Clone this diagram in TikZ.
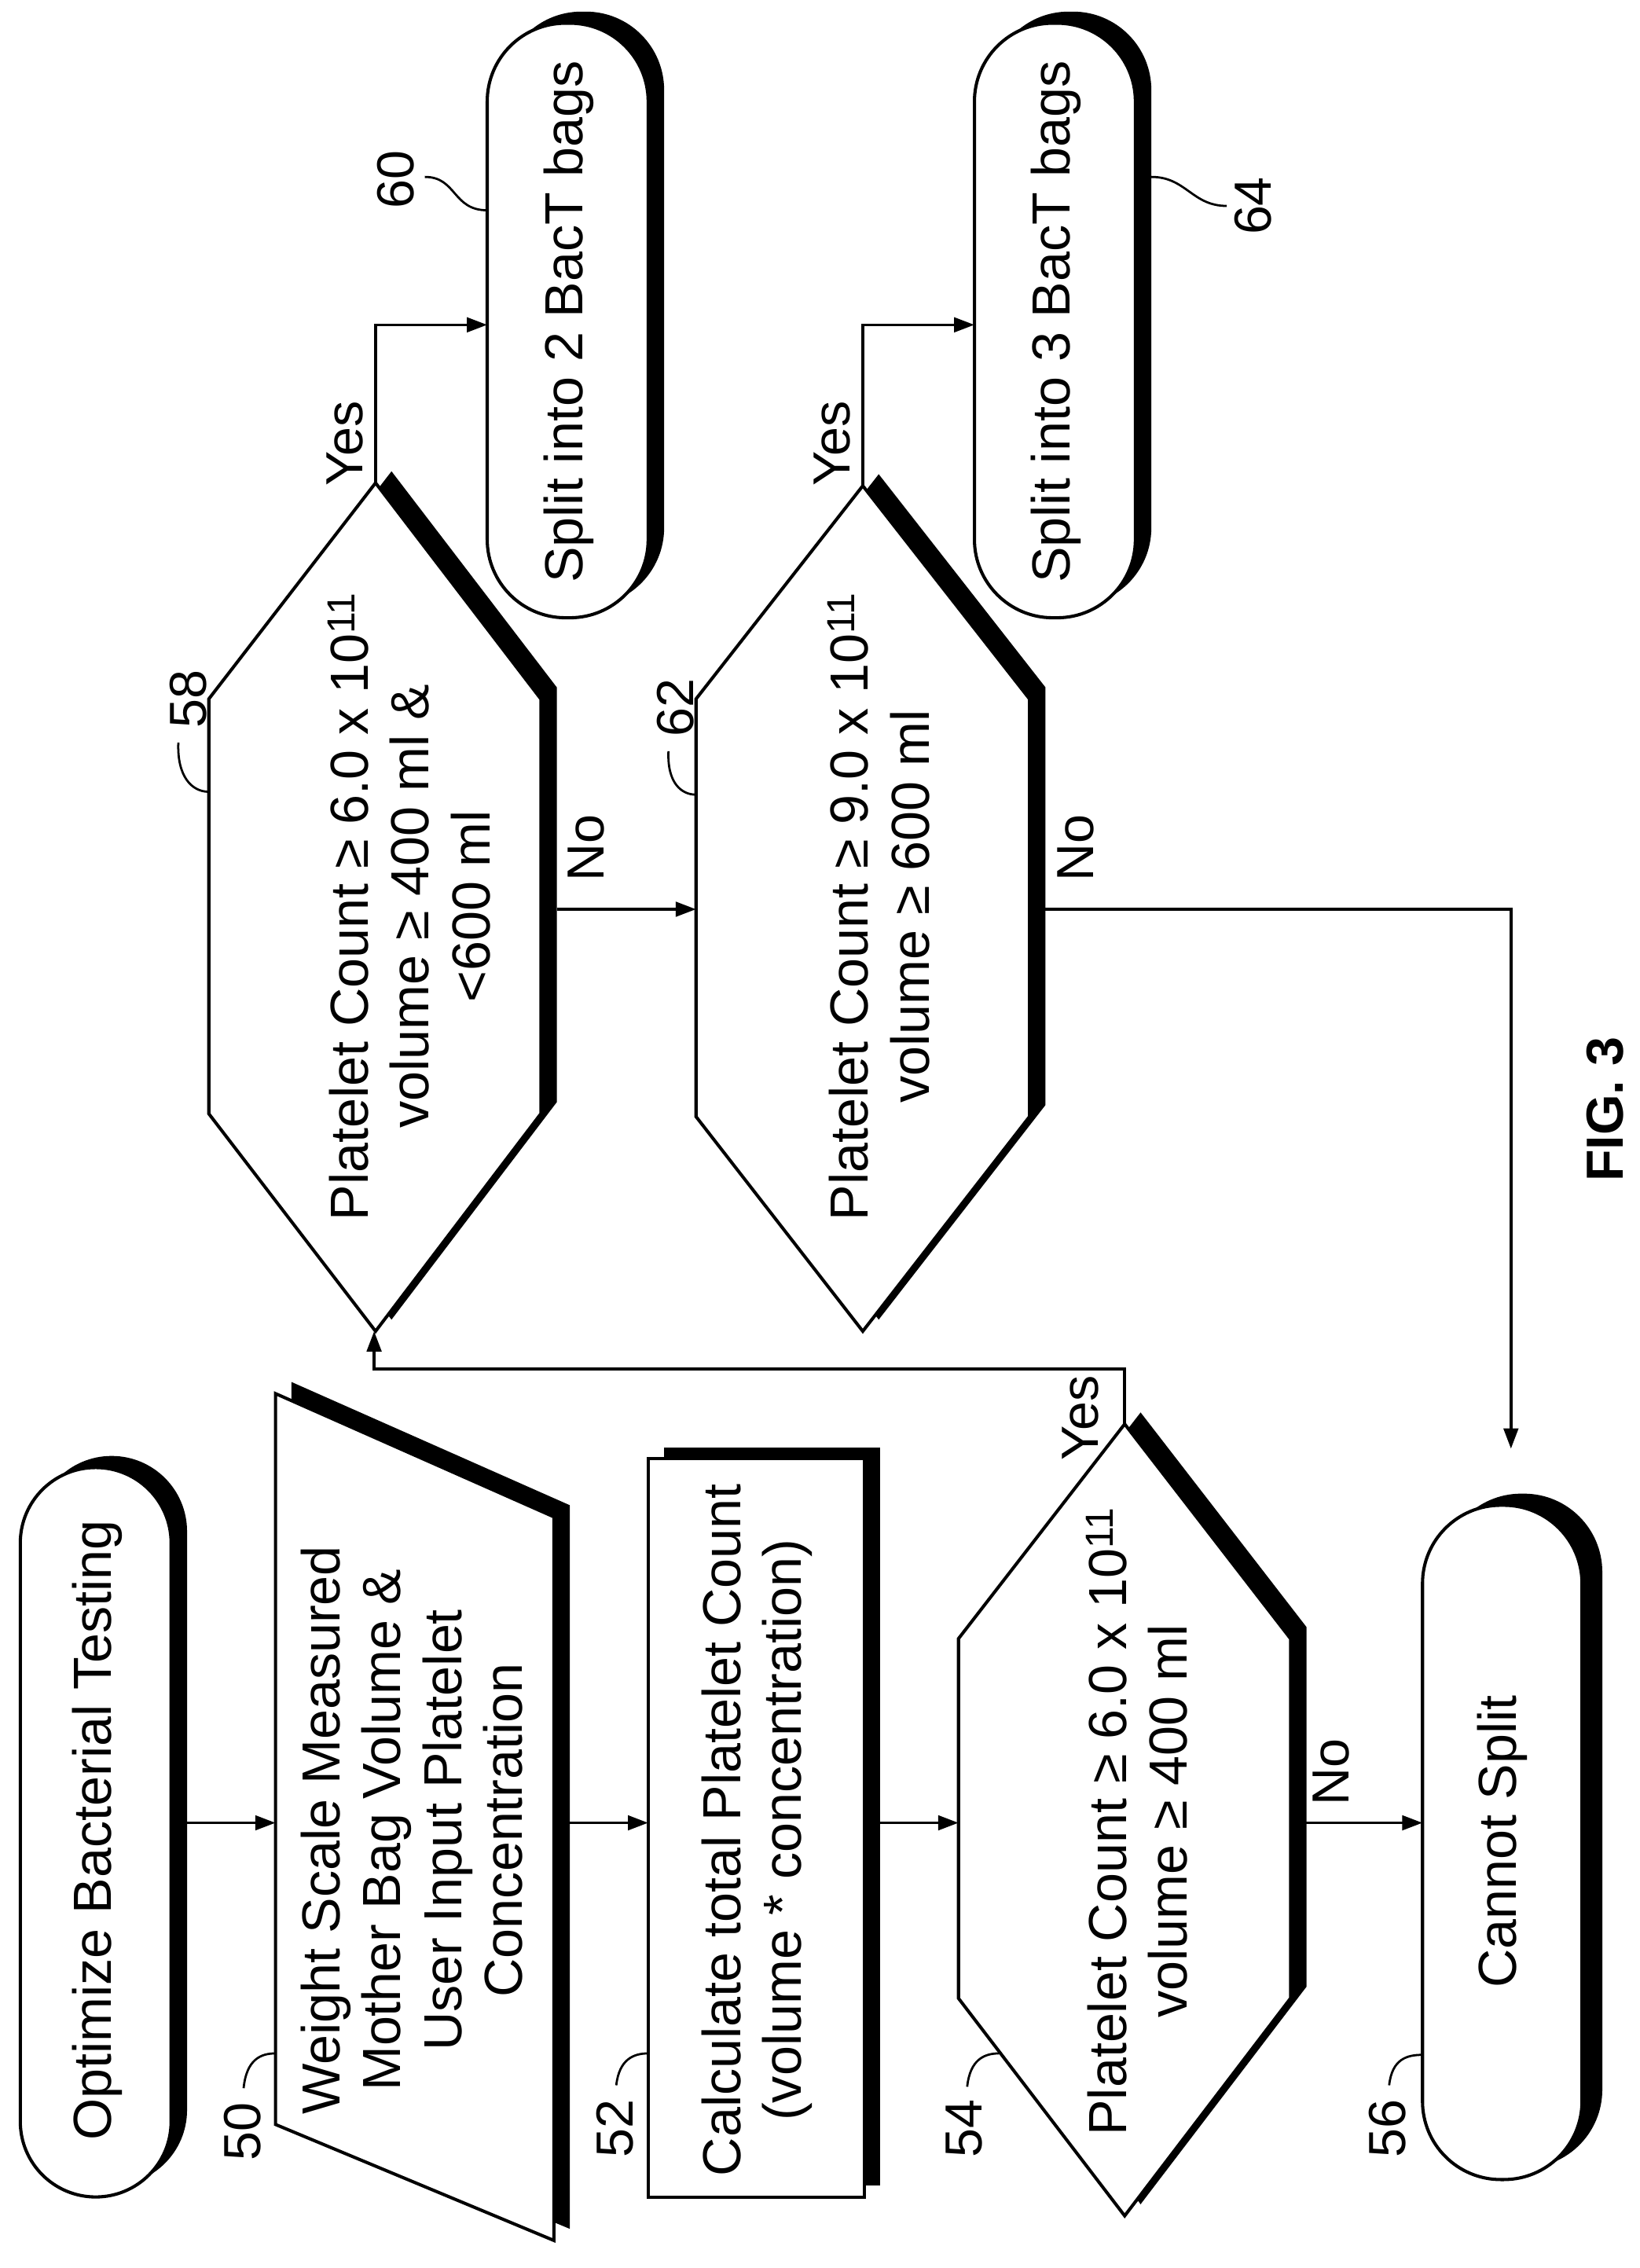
\documentclass[tikz,border=0pt]{standalone}
\usepackage{fontspec}
\setmainfont{Liberation Sans}
\usetikzlibrary{arrows.meta}
\newcommand{\supx}[1]{\textsuperscript{\fontsize{27}{27}\selectfont #1}}
\begin{document}
\begin{tikzpicture}[x=1pt,y=1pt,
 box/.style={draw=black,fill=white,line width=2.2pt,line join=miter},
 shd/.style={fill=black,shift={(11,8)}},
 txt/.style={rotate=90,align=center,font=\fontsize{37}{42}\selectfont},
 lbl/.style={rotate=90,font=\fontsize{36}{38}\selectfont,inner sep=1pt},
 flow/.style={line width=2pt,-{Triangle[length=14pt,width=10pt]}},
 lead/.style={line width=1.5pt}]
\useasboundingbox (0,0) rectangle (1131,-1564);
% start terminal
\fill[shd,rounded corners=52] (14,-1012) rectangle (118,-1515);
\draw[box,rounded corners=52] (14,-1012) rectangle (118,-1515);
\node[txt] (start) at (67,-1262) {Optimize Bacterial Testing};
% 50
\fill[shd] (190,-961) -- (382,-1046) -- (382,-1545) -- (190,-1465) -- cycle;
\draw[box] (190,-961) -- (382,-1046) -- (382,-1545) -- (190,-1465) -- cycle;
\node[txt] (n50) at (284,-1262) {Weight Scale Measured\\Mother Bag Volume \&\\User Input Platelet\\Concentration};
% 52
\fill[shd] (447,-1006) rectangle (596,-1515);
\draw[box] (447,-1006) rectangle (596,-1515);
\node[txt] (n52) at (522,-1262) {Calculate total Platelet Count\\(volume * concentration)};
% 54
\fill[shd] (775.6,-982) -- (890,-1130) -- (890,-1378) -- (775.6,-1528) -- (661,-1378) -- (661,-1130) -- cycle;
\draw[box] (775.6,-982) -- (890,-1130) -- (890,-1378) -- (775.6,-1528) -- (661,-1378) -- (661,-1130) -- cycle;
\node[txt] (n54) at (784,-1256) {Platelet Count ≥ 6.0 x 10\supx{11}\\volume ≥ 400 ml};
% 56
\fill[shd,shift={(3,0)},rounded corners=54] (981,-1038) rectangle (1091,-1503);
\draw[box,rounded corners=54] (981,-1038) rectangle (1091,-1503);
\node[txt] (n56) at (1036,-1270) {Cannot Split};
% 58
\fill[shd] (259,-333) -- (373,-482) -- (373,-768) -- (259,-918) -- (144,-768) -- (144,-482) -- cycle;
\draw[box] (259,-333) -- (373,-482) -- (373,-768) -- (259,-918) -- (144,-768) -- (144,-482) -- cycle;
\node[txt] (n58) at (282,-625) {Platelet Count ≥ 6.0 x 10\supx{11}\\volume ≥ 400 ml \&\\<600 ml};
% 62
\fill[shd] (595,-335) -- (710,-482) -- (710,-770) -- (595,-918) -- (480,-770) -- (480,-482) -- cycle;
\draw[box] (595,-335) -- (710,-482) -- (710,-770) -- (595,-918) -- (480,-770) -- (480,-482) -- cycle;
\node[txt] (n62) at (606,-625) {Platelet Count ≥ 9.0 x 10\supx{11}\\volume ≥ 600 ml};
% 60
\fill[shd,rounded corners=54] (336,-16) rectangle (447,-426);
\draw[box,rounded corners=54] (336,-16) rectangle (447,-426);
\node[txt] (n60) at (392,-222) {Split into 2 BacT bags};
% 64
\fill[shd,rounded corners=54] (672,-16) rectangle (783,-426);
\draw[box,rounded corners=54] (672,-16) rectangle (783,-426);
\node[txt] (n64) at (728,-222) {Split into 3 BacT bags};
% connector end points
\coordinate (s1) at (128,-1257); \coordinate (e1) at (190,-1257);
\coordinate (s2) at (392,-1257); \coordinate (e2) at (447,-1257);
\coordinate (s3) at (606,-1257); \coordinate (e3) at (661,-1257);
\coordinate (s4) at (900,-1257); \coordinate (e4) at (981,-1257);
\coordinate (y54) at (775.6,-982); \coordinate (b58) at (258,-918);
\coordinate (y58) at (259,-333); \coordinate (l60) at (336,-224);
\coordinate (y62) at (595,-335); \coordinate (l64) at (672,-224);
\coordinate (r58) at (384,-627); \coordinate (l62) at (480,-627);
\coordinate (r62) at (721,-627); \coordinate (t56) at (1042,-999);
\draw[flow] (s1) -- (e1);
\draw[flow] (s2) -- (e2);
\draw[flow] (s3) -- (e3);
\draw[flow] (s4) -- (e4);
\draw[flow] (y54) -- ++(0,38) -| (b58);
\draw[flow] (y58) |- (l60);
\draw[flow] (y62) |- (l64);
\draw[flow] (r58) -- (l62);
\draw[flow] (r62) -| (t56);
% branch labels
\node[lbl] at (918,-1222) {No};
\node[lbl] at (745,-978) {Yes};
\node[lbl] at (238,-306) {Yes};
\node[lbl] at (574,-306) {Yes};
\node[lbl] at (404,-585) {No};
\node[lbl] at (742,-585) {No};
% reference numerals
\node[lbl] (r50) at (167,-1470) {50};
\draw[lead] (168,-1440) .. controls (170,-1420) and (180,-1416) .. (190,-1416);
\node[lbl] (r52) at (424,-1468) {52};
\draw[lead] (425,-1438) .. controls (427,-1420) and (437,-1416) .. (447,-1416);
\node[lbl] (r54) at (665,-1468) {54};
\draw[lead] (667,-1439) .. controls (669,-1420) and (679,-1416) .. (689,-1416);
\node[lbl] (r56) at (957,-1468) {56};
\draw[lead] (958,-1438) .. controls (960,-1420) and (970,-1417) .. (981,-1417);
\node[lbl] (r58) at (130,-482) {58};
\draw[lead] (123,-512) .. controls (122,-535) and (132,-546) .. (144,-546);
\node[lbl] (r62) at (466,-488) {62};
\draw[lead] (461,-518) .. controls (460,-540) and (470,-548) .. (480,-548);
\node[lbl] (r60) at (273,-124) {60};
\draw[lead] (293,-122) .. controls (315,-122) and (312,-145) .. (336,-145);
\node[lbl] (r64) at (864,-142) {64};
\draw[lead] (794,-122) .. controls (818,-122) and (822,-142) .. (846,-142);
% figure label
\node[rotate=90,font=\fontsize{36}{38}\selectfont\bfseries] (fig) at (1107,-765) {FIG. 3};
\end{tikzpicture}
\end{document}
